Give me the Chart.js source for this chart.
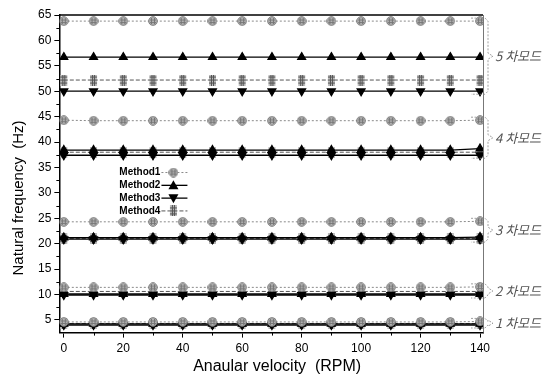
<!DOCTYPE html>
<html>
<head>
<meta charset="utf-8">
<script src="https://cdn.jsdelivr.net/npm/chart.js@4.4.1/dist/chart.umd.min.js"></script>
<style>
  html, body { margin: 0; padding: 0; background: #fff; }
</style>
</head>
<body>
<canvas id="chart" width="549" height="383"></canvas>
<script>
// angular velocity (RPM)
const velocities = [0, 10, 20, 30, 40, 50, 60, 70, 80, 90, 100, 110, 120, 130, 140];
const methodNames = ['Method1', 'Method2', 'Method3', 'Method4'];
const modeLabels = ['1 차모드', '2 차모드', '3 차모드', '4 차모드', '5 차모드'];
const xTickLabels = [0, 20, 40, 60, 80, 100, 120, 140];
const yTickLabels = [5, 10, 15, 20, 25, 30, 35, 40, 45, 50, 55, 60, 65];

// natural frequency (Hz), one row per mode (1st .. 5th)
const method1 = [
  [4.6, 4.6, 4.6, 4.6, 4.6, 4.6, 4.6, 4.6, 4.6, 4.6, 4.6, 4.6, 4.6, 4.6, 4.7],
  [11.4, 11.4, 11.4, 11.4, 11.4, 11.4, 11.4, 11.4, 11.4, 11.4, 11.4, 11.4, 11.4, 11.4, 11.5],
  [24.3, 24.3, 24.3, 24.3, 24.3, 24.3, 24.3, 24.3, 24.3, 24.3, 24.3, 24.3, 24.3, 24.3, 24.4],
  [44.3, 44.2, 44.2, 44.2, 44.2, 44.2, 44.2, 44.2, 44.2, 44.2, 44.2, 44.2, 44.2, 44.2, 44.3],
  [63.8, 63.8, 63.8, 63.8, 63.8, 63.8, 63.8, 63.8, 63.8, 63.8, 63.8, 63.8, 63.8, 63.8, 63.8]
];
const method2 = [
  [4.2, 4.2, 4.2, 4.2, 4.2, 4.2, 4.2, 4.2, 4.2, 4.2, 4.2, 4.2, 4.2, 4.2, 4.2],
  [10.1, 10.1, 10.1, 10.1, 10.1, 10.1, 10.1, 10.1, 10.1, 10.1, 10.1, 10.1, 10.1, 10.1, 10.1],
  [21.2, 21.2, 21.2, 21.2, 21.2, 21.2, 21.2, 21.2, 21.2, 21.2, 21.2, 21.2, 21.2, 21.2, 21.3],
  [38.4, 38.4, 38.4, 38.4, 38.4, 38.4, 38.4, 38.4, 38.4, 38.4, 38.4, 38.4, 38.4, 38.4, 38.7],
  [56.7, 56.7, 56.7, 56.7, 56.7, 56.7, 56.7, 56.7, 56.7, 56.7, 56.7, 56.7, 56.7, 56.7, 56.7]
];
const method3 = [
  [4.0, 4.0, 4.0, 4.0, 4.0, 4.0, 4.0, 4.0, 4.0, 4.0, 4.0, 4.0, 4.0, 4.0, 4.0],
  [9.9, 9.9, 9.9, 9.9, 9.9, 9.9, 9.9, 9.9, 9.9, 9.9, 9.9, 9.9, 9.9, 9.9, 9.9],
  [20.9, 20.9, 20.9, 20.9, 20.9, 20.9, 20.9, 20.9, 20.9, 20.9, 20.9, 20.9, 20.9, 20.9, 20.9],
  [37.4, 37.4, 37.4, 37.4, 37.4, 37.4, 37.4, 37.4, 37.4, 37.4, 37.4, 37.4, 37.4, 37.4, 37.4],
  [50.0, 50.0, 50.0, 50.0, 50.0, 50.0, 50.0, 50.0, 50.0, 50.0, 50.0, 50.0, 50.0, 50.0, 50.0]
];
const method4 = [
  [4.3, 4.3, 4.3, 4.3, 4.3, 4.3, 4.3, 4.3, 4.3, 4.3, 4.3, 4.3, 4.3, 4.3, 4.3],
  [10.6, 10.6, 10.6, 10.6, 10.6, 10.6, 10.6, 10.6, 10.6, 10.6, 10.6, 10.6, 10.6, 10.6, 10.6],
  [21.0, 21.0, 21.0, 21.0, 21.0, 21.0, 21.0, 21.0, 21.0, 21.0, 21.0, 21.0, 21.0, 21.0, 21.0],
  [38.0, 38.0, 38.0, 38.0, 38.0, 38.0, 38.0, 38.0, 38.0, 38.0, 38.0, 38.0, 38.0, 38.0, 38.0],
  [52.2, 52.2, 52.2, 52.2, 52.2, 52.2, 52.2, 52.2, 52.2, 52.2, 52.2, 52.2, 52.2, 52.2, 52.2]
];

// hatched grey markers, like the scanned Origin symbols
function circleMarker() {
  const c = document.createElement('canvas');
  c.width = 10; c.height = 10;
  const g = c.getContext('2d');
  g.fillStyle = '#b5b5b5';
  g.strokeStyle = '#777';
  g.beginPath(); g.arc(5, 5, 4.3, 0, Math.PI * 2); g.fill(); g.stroke();
  g.beginPath();
  g.moveTo(3.5, 2); g.lineTo(3.5, 8); g.moveTo(6.5, 2); g.lineTo(6.5, 8);
  g.moveTo(2, 4); g.lineTo(8, 4); g.moveTo(2, 6.5); g.lineTo(8, 6.5);
  g.stroke();
  return c;
}
function squareMarker() {
  const c = document.createElement('canvas');
  c.width = 9; c.height = 11;
  const g = c.getContext('2d');
  g.fillStyle = '#bbb';
  g.fillRect(1, 0, 7, 11);
  g.strokeStyle = '#555';
  g.beginPath();
  g.moveTo(3.5, 0); g.lineTo(3.5, 11); g.moveTo(5.5, 0); g.lineTo(5.5, 11);
  g.moveTo(1, 2.5); g.lineTo(8, 2.5); g.moveTo(1, 5.5); g.lineTo(8, 5.5); g.moveTo(1, 8.5); g.lineTo(8, 8.5);
  g.stroke();
  return c;
}

const styles = [
  { color: '#8a8a8a', width: 1, dash: [2, 2], point: circleMarker(), radius: 5 },
  { color: '#000', width: 1.3, dash: [], point: 'triangle', radius: 4.5 },
  { color: '#000', width: 1.3, dash: [], point: 'triangle', radius: 4.5, rotation: 180 },
  { color: '#555', width: 1, dash: [4, 2], point: squareMarker(), radius: 5 }
];

const allMethods = [method1, method2, method3, method4];
const datasets = [];
allMethods.forEach((modes, m) => {
  const s = styles[m];
  modes.forEach((vals) => {
    datasets.push({
      label: methodNames[m],
      data: velocities.map((v, i) => ({ x: v, y: vals[i] })),
      borderColor: s.color,
      backgroundColor: s.color,
      borderWidth: s.width,
      borderDash: s.dash,
      pointStyle: s.point,
      pointRadius: s.radius,
      pointRotation: s.rotation || 0,
      pointBorderColor: s.color,
      pointBackgroundColor: s.color,
      tension: 0
    });
  });
});

const extras = {
  id: 'extras',
  afterDraw(chart) {
    const ctx = chart.ctx;
    const xs = chart.scales.x, ys = chart.scales.y;
    const a = chart.chartArea;
    ctx.save();
    // frame: top and right
    ctx.strokeStyle = '#000';
    ctx.lineWidth = 1.5;
    ctx.beginPath(); ctx.moveTo(a.left, a.top); ctx.lineTo(a.right, a.top); ctx.stroke();
    ctx.strokeStyle = '#777';
    ctx.lineWidth = 1;
    ctx.beginPath(); ctx.moveTo(a.right + 0.5, a.top); ctx.lineTo(a.right + 0.5, a.bottom); ctx.stroke();

    // minor ticks
    ctx.strokeStyle = '#000';
    ctx.lineWidth = 1;
    ctx.beginPath();
    for (let v = 10; v < 140; v += 20) {
      const px = Math.round(xs.getPixelForValue(v)) + 0.5;
      ctx.moveTo(px, a.bottom); ctx.lineTo(px, a.bottom + 3);
    }
    for (let v = 7.5; v < 65; v += 5) {
      const py = Math.round(ys.getPixelForValue(v)) + 0.5;
      ctx.moveTo(a.left, py); ctx.lineTo(a.left - 3, py);
    }
    ctx.stroke();

    // axis titles
    ctx.fillStyle = '#000';
    ctx.font = '16px "Liberation Sans", Arial, sans-serif';
    ctx.textAlign = 'center';
    ctx.textBaseline = 'middle';
    ctx.fillText('Anaular velocity  (RPM)', (a.left + a.right) / 2 + 6, 367);
    ctx.save();
    ctx.translate(19, ys.getPixelForValue(29));
    ctx.rotate(-Math.PI / 2);
    ctx.font = '15px "Liberation Sans", Arial, sans-serif';
    ctx.fillText('Natural frequency  (Hz)', 0, 0);
    ctx.restore();

    // legend inside plot
    ctx.font = 'bold 10px "Liberation Sans", Arial, sans-serif';
    ctx.textAlign = 'right';
    ctx.textBaseline = 'middle';
    methodNames.forEach((name, m) => {
      const s = styles[m];
      const ly = ys.getPixelForValue(34.0) + m * 12.8;
      const lx = xs.getPixelForValue(32.5);
      ctx.fillStyle = '#000';
      ctx.fillText(name, lx, ly);
      ctx.strokeStyle = s.color;
      ctx.lineWidth = s.width;
      ctx.setLineDash(s.dash);
      ctx.beginPath(); ctx.moveTo(lx + 1, ly); ctx.lineTo(lx + 27, ly); ctx.stroke();
      ctx.setLineDash([]);
      const mx = lx + 13;
      if (typeof s.point !== 'string') {
        ctx.drawImage(s.point, mx - s.point.width / 2, ly - s.point.height / 2);
      } else {
        ctx.fillStyle = '#000';
        ctx.beginPath();
        if (s.rotation) { ctx.moveTo(mx - 5, ly - 4); ctx.lineTo(mx + 5, ly - 4); ctx.lineTo(mx, ly + 5); }
        else { ctx.moveTo(mx - 5, ly + 4); ctx.lineTo(mx + 5, ly + 4); ctx.lineTo(mx, ly - 5); }
        ctx.closePath(); ctx.fill();
      }
    });

    // braces and mode labels on the right
    ctx.font = 'italic 13px "Noto Sans CJK KR", sans-serif';
    ctx.textAlign = 'left';
    modeLabels.forEach((label, k) => {
      const vals = allMethods.map(mm => mm[k][mm[k].length - 1]);
      const top = ys.getPixelForValue(Math.max(...vals)) - 3;
      const bot = ys.getPixelForValue(Math.min(...vals)) + 3;
      const mid = (top + bot) / 2;
      const bx = a.right + 2;
      ctx.strokeStyle = '#888';
      ctx.lineWidth = 0.8;
      ctx.setLineDash([2, 1.5]);
      ctx.beginPath();
      ctx.moveTo(bx - 14, top); ctx.lineTo(bx, top); ctx.lineTo(bx + 3, top + 3);
      ctx.lineTo(bx + 3, mid - 3); ctx.lineTo(bx + 8, mid);
      ctx.lineTo(bx + 3, mid + 3); ctx.lineTo(bx + 3, bot - 3);
      ctx.lineTo(bx, bot); ctx.lineTo(bx - 14, bot);
      ctx.stroke();
      ctx.setLineDash([]);
      ctx.fillStyle = '#555';
      ctx.fillText(label, a.right + 12, mid);
    });
    ctx.restore();
  }
};

new Chart(document.getElementById('chart'), {
  type: 'line',
  data: { datasets },
  options: {
    responsive: false,
    animation: false,
    layout: { padding: { top: 15, right: 66, left: 35, bottom: 23 } },
    plugins: { legend: { display: false }, tooltip: { enabled: false } },
    scales: {
      x: {
        type: 'linear',
        min: -1.5,
        max: 141,
        afterBuildTicks: (scale) => { scale.ticks = xTickLabels.map(v => ({ value: v })); },
        ticks: { color: '#000', font: { size: 12, family: '"Liberation Sans", Arial' }, padding: 4, maxRotation: 0 },
        grid: { drawOnChartArea: false, tickLength: 5, color: '#000' },
        border: { color: '#000', width: 1.5 }
      },
      y: {
        type: 'linear',
        min: 2.5,
        max: 65,
        afterBuildTicks: (scale) => { scale.ticks = yTickLabels.map(v => ({ value: v })); },
        ticks: { color: '#000', font: { size: 12, family: '"Liberation Sans", Arial' }, padding: 3 },
        grid: { drawOnChartArea: false, tickLength: 5, color: '#000' },
        border: { color: '#000', width: 1.5 }
      }
    }
  },
  plugins: [extras]
});
</script>
</body>
</html>
